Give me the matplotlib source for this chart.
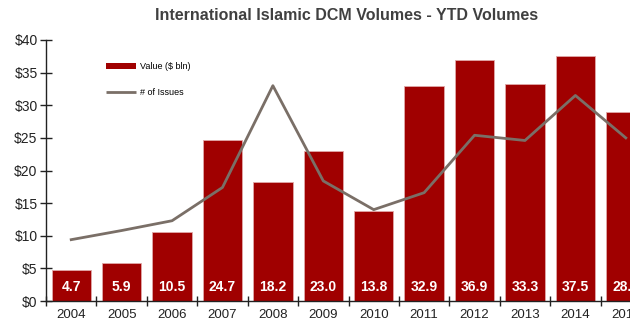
import matplotlib.pyplot as plt
from matplotlib.patches import Patch
from matplotlib.lines import Line2D

plt.rcParams['font.family'] = ['Liberation Sans', 'DejaVu Sans']

years = ['2004', '2005', '2006', '2007', '2008', '2009', '2010',
         '2011', '2012', '2013', '2014', '2015']
value_bln = [4.7, 5.9, 10.5, 24.7, 18.2, 23.0, 13.8, 32.9, 36.9, 33.3, 37.5, 28.9]
issues = [9.4, 10.8, 12.3, 17.4, 33.0, 18.4, 14.0, 16.6, 25.4, 24.6, 31.5, 25.0]
y_ticks = [0, 5, 10, 15, 20, 25, 30, 35, 40]

bar_red = '#a00000'
line_grey = '#7a6f67'

fig = plt.figure(figsize=(6.3, 3.29), dpi=100)
# the original chart runs past the right edge, so the axes do too
ax = fig.add_axes([46 / 630, 28 / 329, 605 / 630, 261 / 329])

x = list(range(len(years)))
ax.bar(x, value_bln, width=0.78, color=bar_red, edgecolor='#e0a8a8', linewidth=0.6, zorder=2)
ax.plot(x, issues, color=line_grey, linewidth=2.0, zorder=3)

for xi, v in zip(x, value_bln):
    ax.text(xi, 2.1, f'{v:.1f}', ha='center', va='center', color='white',
            fontsize=10, fontweight='bold', zorder=4)

ax.set_xlim(-0.5, len(years) - 0.5)
ax.set_ylim(0, 40)
ax.set_yticks(y_ticks)
ax.set_yticklabels([f'${t}' for t in y_ticks], fontsize=10, color='#222222')
ax.set_xticks(x)
ax.set_xticklabels(years, fontsize=9.5, color='#222222')
ax.set_xticks([i - 0.5 for i in range(len(years) + 1)], minor=True)
ax.tick_params(axis='x', which='major', length=0, pad=6)
ax.tick_params(axis='x', which='minor', direction='inout', length=7, width=1, color='#222222')
ax.tick_params(axis='y', direction='inout', length=8, width=1, color='#222222', pad=2)

for side in ['top', 'right']:
    ax.spines[side].set_visible(False)
for side in ['left', 'bottom']:
    ax.spines[side].set_color('#222222')
    ax.spines[side].set_linewidth(1.0)

handles = [Patch(facecolor=bar_red, edgecolor='none'),
           Line2D([0], [0], color=line_grey, linewidth=2.0, solid_capstyle='butt')]
fig.legend(handles, ['Value ($ bln)', '# of Issues'], loc='upper left',
           bbox_to_anchor=(98 / 630, 1 - 54 / 329), frameon=False, fontsize=6.5,
           handlelength=3.3, handleheight=0.6, handletextpad=0.45, labelspacing=1.9)

fig.text(347 / 630, 1 - 16 / 329, 'International Islamic DCM Volumes - YTD Volumes',
         ha='center', va='center', fontsize=11.5, fontweight='bold', color='#404040')

fig.savefig('out.png', dpi=100)
